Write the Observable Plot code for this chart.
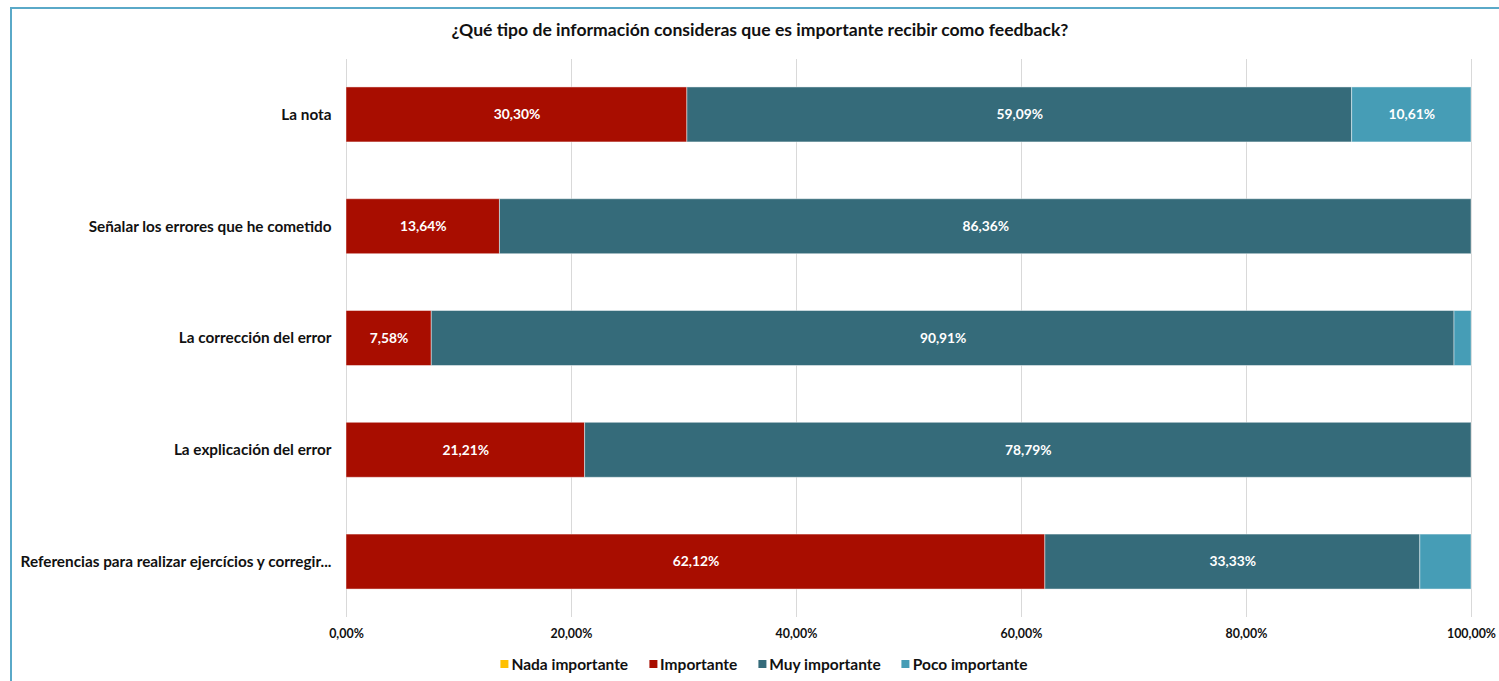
<!DOCTYPE html>
<html>
<head>
<meta charset="utf-8">
<script src="https://cdn.jsdelivr.net/npm/d3@7"></script>
<script src="https://cdn.jsdelivr.net/npm/@observablehq/plot@0.6"></script>
<style>
  html, body { margin: 0; padding: 0; background: #fff; }
  body { width: 1499px; height: 681px; position: relative; overflow: hidden; font-family: Lato, "Open Sans", sans-serif; }
  #frame { position: absolute; left: 10px; top: 7px; width: 1600px; height: 800px; border-left: 2px solid #5aa9c8; border-top: 2px solid #5aa9c8; box-sizing: border-box; }
  #title { position: absolute; top: 19px; left: 760px; transform: translateX(-50%); white-space: nowrap; font-weight: 700; font-size: 17.6px; color: #111; }
  #chart { position: absolute; left: 0; top: 59px; }
  #legend { position: absolute; top: 655px; left: 764px; transform: translateX(-50%); display: flex; gap: 21px; white-space: nowrap; font-weight: 700; font-size: 15.5px; color: #111; }
  #legend .item { display: flex; align-items: center; gap: 3px; }
  #legend .sw { width: 8px; height: 8px; display: inline-block; }
</style>
</head>
<body>
<div id="frame"></div>
<div id="title">¿Qué tipo de información consideras que es importante recibir como feedback?</div>
<div id="chart"></div>
<div id="legend"></div>
<script>
const categories = [
  "La nota",
  "Señalar los errores que he cometido",
  "La corrección del error",
  "La explicación del error",
  "Referencias para realizar ejercícios y corregir..."
];
const seriesNames = ["Nada importante", "Importante", "Muy importante", "Poco importante"];
const seriesColors = ["#ffc000", "#a80d00", "#356b7a", "#469db6"];
const nadaImportante = [0, 0, 0, 0, 0];
const importante = [30.30, 13.64, 7.58, 21.21, 62.12];
const muyImportante = [59.09, 86.36, 90.91, 78.79, 33.33];
const pocoImportante = [10.61, 0, 1.52, 0, 4.55];
const xTicks = [0, 20, 40, 60, 80, 100];

const seriesValues = [nadaImportante, importante, muyImportante, pocoImportante];
const rows = [];
categories.forEach((c, i) => {
  seriesNames.forEach((s, j) => {
    const v = seriesValues[j][i];
    if (v > 0) rows.push({cat: c, series: s, value: v});
  });
});

const fmt = v => v.toFixed(2).replace(".", ",") + "%";

const chart = Plot.plot({
  width: 1499,
  height: 600,
  marginLeft: 346,
  marginRight: 28,
  marginTop: 0,
  marginBottom: 42,
  style: {fontFamily: "Lato, 'Open Sans', sans-serif", fontWeight: "bold", color: "#111", background: "transparent"},
  x: {domain: [0, 100], ticks: xTicks},
  y: {domain: categories, paddingInner: 0.508, paddingOuter: 0.25, round: false},
  color: {domain: seriesNames, range: seriesColors},
  marks: [
    Plot.ruleX(xTicks, {stroke: "#d9d9d9", strokeWidth: 1}),
    Plot.barX(rows, Plot.stackX({x: "value", y: "cat", fill: "series", order: seriesNames, stroke: "#ffffff", strokeOpacity: 0.45, strokeWidth: 1})),
    Plot.text(rows, Plot.stackX({x: "value", y: "cat", z: "series", order: seriesNames, text: d => d.value >= 6 ? fmt(d.value) : null, fill: "white", fontSize: 13.8, fontWeight: "bold"})),
    Plot.axisX({ticks: xTicks, tickSize: 0, tickPadding: 12, fontSize: 12.4, fontWeight: "bold", tickFormat: fmt, label: null}),
    Plot.axisY({tickSize: 0, tickPadding: 15, fontSize: 15.3, fontWeight: "bold", label: null})
  ]
});
document.getElementById("chart").appendChild(chart);

const legend = document.getElementById("legend");
seriesNames.forEach((s, i) => {
  const item = document.createElement("div");
  item.className = "item";
  const sw = document.createElement("span");
  sw.className = "sw";
  sw.style.background = seriesColors[i];
  const t = document.createElement("span");
  t.textContent = s;
  item.appendChild(sw);
  item.appendChild(t);
  legend.appendChild(item);
});
</script>
</body>
</html>
